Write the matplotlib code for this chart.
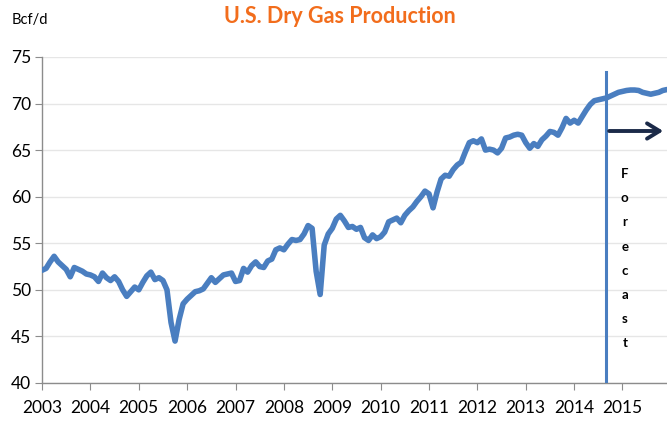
import matplotlib
matplotlib.use("Agg")
import matplotlib.pyplot as plt
import numpy as np

# monthly dry gas production, Bcf/d (Jan 2003 .. Dec 2015)
years = list(range(2003, 2016))
prod = {
    2003: [52.1, 52.3, 53.0, 53.6, 53.0, 52.6, 52.2, 51.4, 52.4, 52.2, 52.0, 51.7],
    2004: [51.6, 51.4, 50.9, 51.8, 51.3, 51.0, 51.4, 50.9, 50.0, 49.3, 49.8, 50.3],
    2005: [50.0, 50.8, 51.5, 51.9, 51.1, 51.3, 51.0, 50.0, 46.5, 44.5, 46.8, 48.5],
    2006: [49.0, 49.4, 49.8, 49.9, 50.1, 50.7, 51.3, 50.8, 51.2, 51.6, 51.7, 51.8],
    2007: [50.9, 51.0, 52.3, 51.9, 52.6, 53.0, 52.5, 52.4, 53.1, 53.3, 54.3, 54.5],
    2008: [54.3, 54.9, 55.4, 55.3, 55.4, 56.0, 56.9, 56.6, 52.0, 49.5, 54.8, 56.0],
    2009: [56.6, 57.6, 58.0, 57.4, 56.7, 56.8, 56.5, 56.7, 55.6, 55.3, 55.9, 55.5],
    2010: [55.7, 56.2, 57.3, 57.5, 57.7, 57.2, 58.0, 58.5, 58.9, 59.5, 60.0, 60.6],
    2011: [60.3, 58.8, 60.5, 61.9, 62.3, 62.2, 62.9, 63.4, 63.7, 64.8, 65.8, 66.0],
    2012: [65.8, 66.2, 65.0, 65.1, 65.0, 64.7, 65.2, 66.3, 66.4, 66.6, 66.7, 66.6],
    2013: [65.8, 65.2, 65.7, 65.4, 66.1, 66.5, 67.0, 66.9, 66.6, 67.4, 68.4, 67.9],
    2014: [68.2, 67.9, 68.6, 69.3, 69.9, 70.3, 70.4, 70.5, 70.6, 70.8, 71.0, 71.2],
    2015: [71.3, 71.4, 71.45, 71.45, 71.4, 71.2, 71.1, 71.0, 71.1, 71.2, 71.4, 71.5],
}
forecast_start = 2014 + 8 / 12   # Sep 2014
arrow_level = 67.05

t = []
vals = []
for y in years:
    for m, v in enumerate(prod[y]):
        t.append(y + m / 12)
        vals.append(v)

plt.rcParams['font.family'] = ['Lato', 'DejaVu Sans']

fig = plt.figure(figsize=(6.67, 4.24), dpi=100)
ax = fig.add_axes([0.063, 0.0967, 0.937, 0.769])

blue = '#4a7ec0'
ax.plot(t, vals, color=blue, lw=4.0, solid_capstyle='round',
        solid_joinstyle='round', zorder=3)

# forecast marker
ax.plot([forecast_start, forecast_start], [40, 73.4], color=blue, lw=2.2, zorder=4)
ax.annotate('', xy=(2015.9, arrow_level), xytext=(forecast_start, arrow_level),
            arrowprops=dict(arrowstyle='->,head_length=0.9,head_width=0.55',
                            color='#1b2a48', lw=2.8), zorder=5)
letters = "Forecast"
ys = np.linspace(62.4, 44.3, len(letters))
for ch, yy in zip(letters, ys):
    ax.text(forecast_start + 0.38, yy, ch, ha='center', va='center',
            fontsize=9.5, fontweight='bold', color='black')

ax.set_xlim(2003, 2015.92)
ax.set_ylim(40, 75)
ax.set_yticks(range(40, 76, 5))
ax.set_xticks(years)
ax.set_xticklabels([str(y) for y in years])
ax.grid(axis='y', color='#e6e6e6', lw=1)
ax.set_axisbelow(True)

for s in ['top', 'right']:
    ax.spines[s].set_visible(False)
for s in ['left', 'bottom']:
    ax.spines[s].set_color('#8c8c8c')
    ax.spines[s].set_linewidth(1)
ax.tick_params(axis='both', colors='#8c8c8c', labelcolor='black', length=5,
               labelsize=12.5)
ax.tick_params(axis='x', pad=7)
ax.tick_params(axis='y', pad=3)

fig.text(0.51, 0.962, 'U.S. Dry Gas Production', ha='center', va='center',
         fontsize=15.5, fontweight='bold', color='#f26d1c')
fig.text(0.018, 0.952, 'Bcf/d', ha='left', va='center', fontsize=10.5, color='black')

fig.savefig('out.png', dpi=100)
